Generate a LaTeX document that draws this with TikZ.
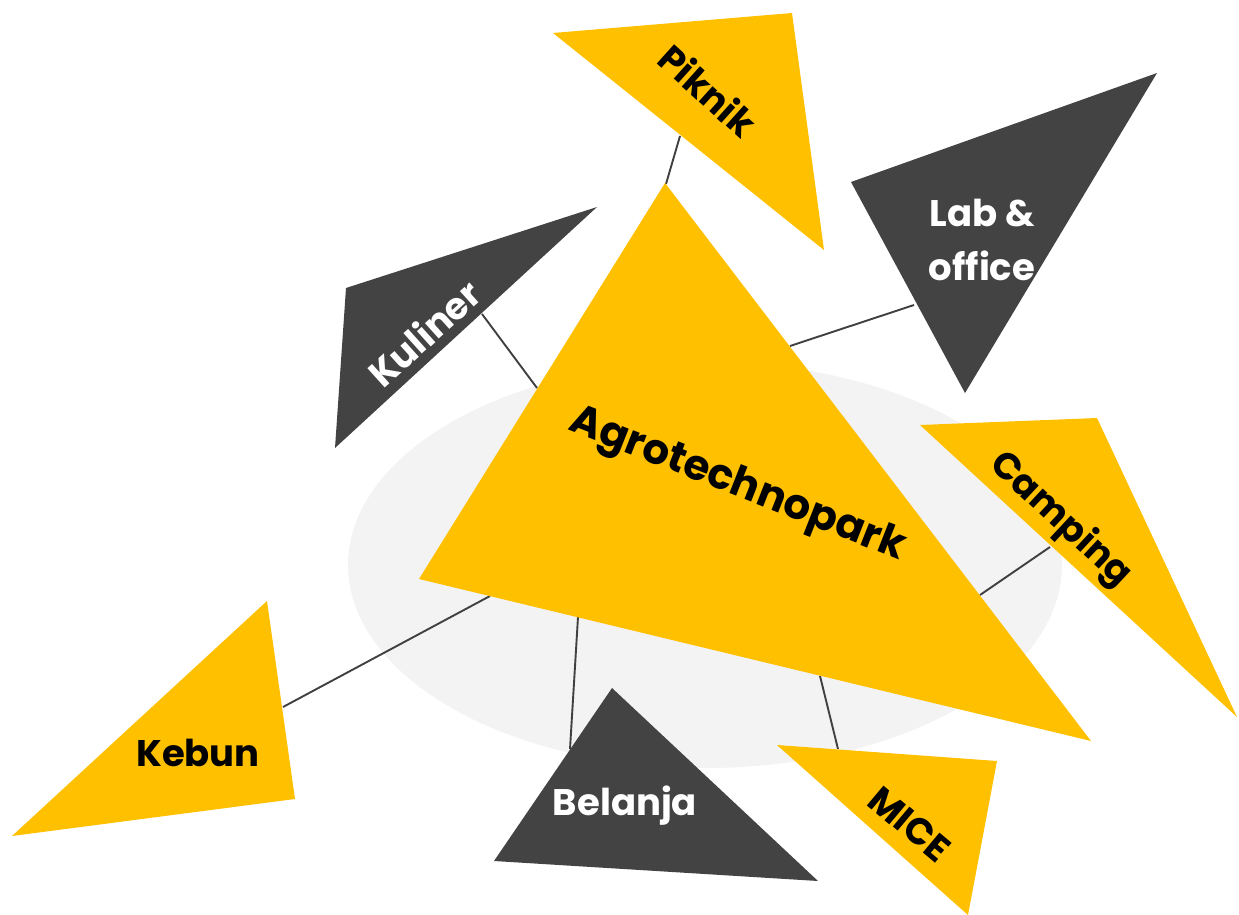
\documentclass[tikz,border=0pt]{standalone}
\usepackage{fontspec}
\setmainfont{Poppins}
\definecolor{triyellow}{HTML}{FFC000}
\definecolor{trigray}{HTML}{434343}
\definecolor{halo}{HTML}{F3F3F3}
\definecolor{linkgray}{HTML}{404040}
\begin{document}
\begin{tikzpicture}[x=1pt,y=-1pt,
  yel/.style={fill=triyellow},
  dark/.style={fill=trigray},
  link/.style={draw=linkgray,line width=1.9pt},
  lbl/.style={inner sep=0pt,font=\bfseries\fontsize{37}{54}\selectfont,align=center},
  onyel/.style={lbl,text=black},
  ondark/.style={lbl,text=white}]
\useasboundingbox (0,0) rectangle (1239,915);

% soft backdrop behind the hub
\fill[halo] (705,565) ellipse [x radius=357, y radius=203];

% connector end points
\coordinate (pkA) at (680,136);   \coordinate (pkB) at (666,184);
\coordinate (lbA) at (914,305);   \coordinate (lbB) at (790,346);
\coordinate (kuA) at (482,314);   \coordinate (kuB) at (537,388);
\coordinate (caA) at (1050,547);  \coordinate (caB) at (980,595);
\coordinate (keA) at (283,707);   \coordinate (keB) at (490,596);
\coordinate (beA) at (570,749);   \coordinate (beB) at (578,617);
\coordinate (miA) at (838,749);   \coordinate (miB) at (820,676);

% connectors
\draw[link] (pkA) -- (pkB);
\draw[link] (lbA) -- (lbB);
\draw[link] (kuA) -- (kuB);
\draw[link] (caA) -- (caB);
\draw[link] (keA) -- (keB);
\draw[link] (beA) -- (beB);
\draw[link] (miA) -- (miB);

% triangles
\fill[yel]  (665,183) -- (1091,741) -- (419,579) -- cycle;   % hub
\fill[yel]  (553,33) -- (792,13) -- (824,250) -- cycle;      % Piknik
\fill[dark] (851,182) -- (1157,73) -- (965,393) -- cycle;    % Lab & office
\fill[dark] (346,288) -- (597,207) -- (335,448) -- cycle;    % Kuliner
\fill[yel]  (920,425) -- (1097,418) -- (1237,717) -- cycle;  % Camping
\fill[yel]  (267,601) -- (295,799) -- (12,836) -- cycle;     % Kebun
\fill[dark] (612,688) -- (818,881) -- (494,861) -- cycle;    % Belanja
\fill[yel]  (777,745) -- (997,761) -- (968,915) -- cycle;    % MICE

% labels
\node[onyel, rotate=-21.5, font=\bfseries\fontsize{42}{50}\selectfont] (hub) at (737,486) {Agrotechnopark};
\node[onyel, rotate=-42] (piknik) at (708,90) {Piknik};
\node[ondark] (lab) at (982,240) {Lab \&\\office};
\node[ondark, rotate=42] (kuliner) at (424,333) {Kuliner};
\node[onyel, rotate=-43] (camping) at (1060,520) {Camping};
\node[onyel] (kebun) at (198,753) {Kebun};
\node[ondark] (belanja) at (625,806) {Belanja};
\node[onyel, rotate=-40] (mice) at (910,824) {MICE};
\end{tikzpicture}
\end{document}
